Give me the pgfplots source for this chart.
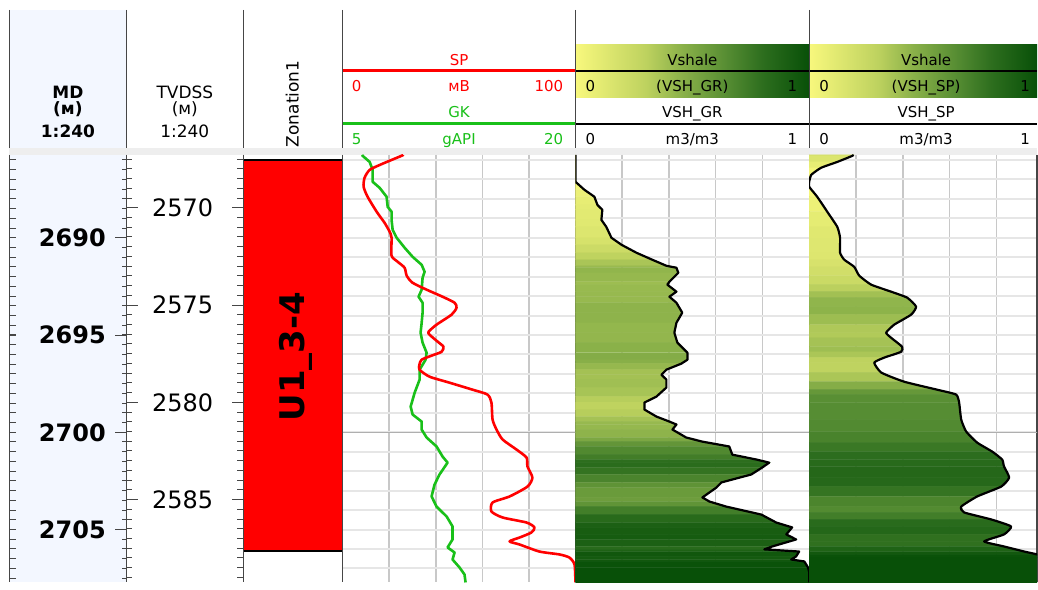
\documentclass[border=0pt]{standalone}
\usepackage{fontspec}
\setmainfont{DejaVu Sans}
\usepackage{pgfplots}
\pgfplotsset{compat=1.18}
\usepackage{pgfplotstable}

\definecolor{mdbg}{RGB}{243,247,255}
\definecolor{sepline}{RGB}{70,70,70}
\definecolor{spred}{RGB}{255,0,0}
\definecolor{gkgreen}{RGB}{25,192,25}
\definecolor{gridv}{RGB}{200,200,200}
\definecolor{gridh}{RGB}{230,230,230}
\definecolor{gridd}{RGB}{175,175,175}
\definecolor{band}{RGB}{238,238,238}
\definecolor{vA}{RGB}{248,248,125}
\definecolor{vB}{RGB}{190,210,95}
\definecolor{vC}{RGB}{140,178,74}
\definecolor{vD}{RGB}{85,140,50}
\definecolor{vE}{RGB}{45,110,30}
\definecolor{vF}{RGB}{8,80,8}
\pgfdeclarehorizontalshading{vshgrad}{100bp}{color(0bp)=(vA); color(25bp)=(vA); color(40bp)=(vB); color(47.5bp)=(vC); color(57.5bp)=(vD); color(65bp)=(vE); color(75bp)=(vF); color(100bp)=(vF)}

\newcommand\hdr{\fontsize{15}{18}\selectfont}
\newcommand\hdrbig{\fontsize{17}{20}\selectfont}

% SP (mV) vs MD depth
\pgfplotstableread{
d sp
2685.74 26.0
2685.79 25.2
2686.20 17.0
2686.51 11.6
2686.92 9.4
2687.38 9.0
2687.89 10.7
2688.66 14.6
2689.23 18.0
2689.69 20.2
2690.00 21.0
2690.92 21.0
2691.23 23.6
2691.54 26.6
2691.95 27.5
2692.31 30.0
2692.67 36.1
2693.03 42.9
2693.34 48.1
2693.60 48.9
2693.95 46.8
2694.47 40.3
2694.83 36.9
2694.98 37.3
2695.34 40.8
2695.60 43.3
2695.86 42.5
2696.06 38.2
2696.27 33.9
2696.52 33.0
2696.78 33.0
2697.14 37.3
2697.45 45.9
2697.81 55.8
2698.06 62.2
2698.47 63.9
2699.35 64.4
2699.86 66.1
2700.37 68.7
2700.89 74.7
2701.30 79.0
2701.76 79.4
2702.33 81.5
2702.79 79.4
2703.30 71.7
2703.61 64.4
2704.07 63.9
2704.38 68.7
2704.64 79.0
2704.89 82.4
2705.15 81.1
2705.41 76.0
2705.61 71.7
2705.77 76.0
2706.13 84.5
2706.28 93.1
2706.44 97.4
2706.80 99.6
2707.72 100
}\sptab

% GK (gAPI) vs MD depth
\pgfplotstableread{
d gk
2685.74 6.25
2685.79 6.29
2686.10 6.74
2686.51 6.93
2687.12 6.93
2687.43 7.38
2687.89 7.83
2688.41 7.90
2688.66 8.15
2689.08 8.15
2689.59 8.22
2690.00 8.48
2690.51 8.99
2690.98 9.51
2691.39 10.09
2691.75 10.28
2692.05 10.15
2692.67 10.09
2693.03 9.89
2693.34 10.15
2693.85 10.15
2694.37 10.09
2694.88 10.02
2695.39 10.15
2695.91 10.41
2696.27 10.34
2696.78 9.96
2697.29 9.96
2697.96 9.64
2698.68 9.38
2699.09 9.51
2699.45 10.09
2699.86 10.09
2700.27 10.41
2700.73 11.05
2701.25 11.44
2701.56 11.76
2702.17 11.24
2702.69 10.92
2703.30 10.73
2703.82 11.05
2704.33 11.70
2704.84 12.08
2705.51 12.08
2705.92 11.76
2706.18 12.21
2706.54 12.08
2706.95 12.53
2707.31 12.85
2707.72 12.92
}\gktab

% VSH_GR vs MD depth
\pgfplotstableread{
d v
2685.74 0
2687.12 0
2687.53 0.038
2687.89 0.081
2688.31 0.094
2688.56 0.115
2689.08 0.111
2689.44 0.132
2690.00 0.154
2690.36 0.197
2690.77 0.261
2691.13 0.329
2691.44 0.389
2691.54 0.432
2691.80 0.440
2692.26 0.402
2692.41 0.393
2692.77 0.432
2693.03 0.402
2693.34 0.432
2693.85 0.457
2694.37 0.432
2694.88 0.423
2695.39 0.436
2695.91 0.479
2696.27 0.479
2696.47 0.453
2696.78 0.389
2697.04 0.368
2697.29 0.389
2697.70 0.389
2698.17 0.346
2698.47 0.295
2698.83 0.295
2699.19 0.346
2699.45 0.402
2699.60 0.432
2699.86 0.415
2700.27 0.474
2700.48 0.543
2700.73 0.658
2701.15 0.671
2701.40 0.774
2701.56 0.829
2701.81 0.799
2702.17 0.752
2702.58 0.624
2702.84 0.603
2703.35 0.543
2703.56 0.573
2703.82 0.645
2704.23 0.795
2704.64 0.859
2704.89 0.927
2705.25 0.902
2705.51 0.944
2705.87 0.842
2706.02 0.808
2706.13 0.957
2706.38 0.944
2706.54 0.923
2706.64 0.979
2706.95 0.995
2707.20 1
2707.72 1
}\grtab

% VSH_SP vs MD depth
\pgfplotstableread{
d v
2685.74 0.190
2685.79 0.184
2686.10 0.120
2686.40 0.051
2686.76 0.009
2687.12 0
2687.38 0
2687.89 0.034
2688.66 0.077
2689.44 0.120
2690.00 0.132
2690.77 0.132
2691.13 0.150
2691.49 0.192
2691.95 0.214
2692.41 0.265
2692.77 0.350
2693.08 0.419
2693.54 0.457
2693.95 0.436
2694.47 0.363
2694.88 0.329
2695.14 0.350
2695.60 0.397
2695.86 0.393
2696.16 0.321
2696.42 0.278
2696.93 0.308
2697.40 0.406
2697.81 0.547
2698.06 0.628
2698.47 0.641
2699.35 0.650
2699.96 0.671
2700.53 0.718
2700.99 0.782
2701.40 0.825
2701.76 0.833
2702.33 0.855
2702.79 0.821
2703.30 0.718
2703.82 0.650
2704.12 0.662
2704.48 0.778
2704.84 0.863
2705.25 0.833
2705.61 0.748
2705.87 0.833
2706.13 0.919
2706.28 0.974
2706.44 1
2707.72 1
}\vsptab

\pgfplotsset{
  trk/.style={scale only axis, height=428pt, ymin=2685.737, ymax=2707.72,
    y dir=reverse, anchor=north west},
  gridtrk/.style={trk, separate axis lines,
    x axis line style={draw=none}, y axis line style={sepline, line width=1.2pt},
    xmajorgrids, ymajorgrids, tick style={draw=none},
    xticklabels={}, yticklabels={}, ytick={2686,2687,...,2707},
    x grid style={gridv, line width=1.5pt}, y grid style={gridh, line width=2pt}},
  ovl/.style={trk, hide axis},
  vshmap/.style={colormap={vsh}{rgb255(0cm)=(248,248,125); rgb255(3cm)=(190,210,95);
      rgb255(4.5cm)=(140,178,74); rgb255(6.5cm)=(85,140,50); rgb255(8cm)=(45,110,30);
      rgb255(10cm)=(8,80,8)}, point meta min=0, point meta max=1},
}

\begin{document}
\begin{tikzpicture}[x=1pt,y=1pt]
\fill[white] (0,0) rectangle (1038,-583);
% ---------- header ----------
\fill[mdbg] (9.5,-10) rectangle (127,-148);
\shade[shading=vshgrad] (576,-45) rectangle (810,-98);
\shade[shading=vshgrad] (810,-45) rectangle (1038,-98);
\draw[spred, line width=3pt] (343,-71) -- (576,-71);
\draw[gkgreen, line width=3pt] (343,-124) -- (576,-124);
\draw[black, line width=1.3pt] (576,-71) -- (1038,-71);
\draw[black, line width=2pt] (576,-124) -- (1038,-124);
\fill[band] (9.5,-148) rectangle (1038,-155);
\foreach \X in {9.5,127,244,343,576,810} \draw[sepline, line width=1.2pt] (\X,-10) -- (\X,-148);

\node[font=\hdrbig\bfseries, anchor=base] at (68,-99) {MD};
\node[font=\hdrbig\bfseries, anchor=base] at (68,-115) {(м)};
\node[font=\hdrbig\bfseries, anchor=base] at (68,-138) {1:240};
\node[font=\hdrbig, anchor=base] at (185,-99) {TVDSS};
\node[font=\hdrbig, anchor=base] at (185,-115) {(м)};
\node[font=\hdrbig, anchor=base] at (185,-138) {1:240};
\node[font=\hdrbig, rotate=90, anchor=base] at (299,-104) {Zonation1};

\node[font=\hdr, text=spred, anchor=base] at (459.5,-66) {SP};
\node[font=\hdr, text=spred, anchor=base west, inner sep=0pt] at (352,-91.5) {0};
\node[font=\hdr, text=spred, anchor=base] at (459.5,-91.5) {мВ};
\node[font=\hdr, text=spred, anchor=base east, inner sep=0pt] at (564,-91.5) {100};
\node[font=\hdr, text=gkgreen, anchor=base] at (459.5,-118) {GK};
\node[font=\hdr, text=gkgreen, anchor=base west, inner sep=0pt] at (352,-145) {5};
\node[font=\hdr, text=gkgreen, anchor=base] at (459.5,-145) {gAPI};
\node[font=\hdr, text=gkgreen, anchor=base east, inner sep=0pt] at (564,-145) {20};

\node[font=\hdr, anchor=base] at (693,-66) {Vshale};
\node[font=\hdr, anchor=base west, inner sep=0pt] at (586,-91.5) {0};
\node[font=\hdr, anchor=base] at (693,-91.5) {(VSH\_GR)};
\node[font=\hdr, anchor=base east, inner sep=0pt] at (798,-91.5) {1};
\node[font=\hdr, anchor=base] at (693,-118) {VSH\_GR};
\node[font=\hdr, anchor=base west, inner sep=0pt] at (586,-145) {0};
\node[font=\hdr, anchor=base] at (693,-145) {m3/m3};
\node[font=\hdr, anchor=base east, inner sep=0pt] at (798,-145) {1};

\node[font=\hdr, anchor=base] at (927,-66) {Vshale};
\node[font=\hdr, anchor=base west, inner sep=0pt] at (820,-91.5) {0};
\node[font=\hdr, anchor=base] at (927,-91.5) {(VSH\_SP)};
\node[font=\hdr, anchor=base east, inner sep=0pt] at (1031,-91.5) {1};
\node[font=\hdr, anchor=base] at (927,-118) {VSH\_SP};
\node[font=\hdr, anchor=base west, inner sep=0pt] at (820,-145) {0};
\node[font=\hdr, anchor=base] at (927,-145) {m3/m3};
\node[font=\hdr, anchor=base east, inner sep=0pt] at (1031,-145) {1};

% ---------- MD track ----------
\begin{axis}[trk, at={(9.5pt,-155pt)}, width=117.5pt, xmin=0, xmax=1,
  axis x line=none, axis y line*=left, axis line style={sepline, line width=1.2pt},
  axis background/.style={fill=mdbg},
  ytick={2690,2695,2700,2705}, yticklabels={}, minor ytick={2686,2686.5,...,2707.5},
  tick align=inside, major tick length=7pt, minor tick length=7pt,
  every tick/.style={sepline, line width=1pt}]
\end{axis}
\begin{axis}[trk, at={(9.5pt,-155pt)}, width=117.5pt, xmin=0, xmax=1,
  axis x line=none, axis y line*=right, axis line style={sepline, line width=1.2pt},
  ytick={2690,2695,2700,2705}, yticklabels={2690,2695,2700,2705},
  minor ytick={2686,2686.5,...,2707.5},
  tick align=inside, major tick length=12pt, minor tick length=5pt,
  every tick/.style={sepline, line width=1pt},
  yticklabel style={font=\fontsize{24}{24}\selectfont\bfseries, anchor=east, inner sep=0pt, xshift=-21pt}]
\end{axis}
% ---------- TVDSS track ----------
\begin{axis}[trk, at={(127pt,-155pt)}, width=117pt, xmin=0, xmax=1,
  ymin=2567.277, ymax=2589.26,
  axis x line=none, axis y line*=left, axis line style={sepline, line width=1.2pt},
  ytick={2570,2575,2580,2585}, yticklabels={2570,2575,2580,2585},
  minor ytick={2567.5,2568,...,2589},
  tick align=inside, major tick length=11pt, minor tick length=5pt,
  every tick/.style={sepline, line width=1pt},
  yticklabel style={font=\fontsize{24}{24}\selectfont, anchor=west, inner sep=0pt, xshift=25pt}]
\end{axis}
\begin{axis}[trk, at={(127pt,-155pt)}, width=117pt, xmin=0, xmax=1,
  ymin=2567.277, ymax=2589.26,
  axis x line=none, axis y line*=right, axis line style={sepline, line width=1.2pt},
  ytick={2570,2575,2580,2585}, yticklabels={}, minor ytick={2567.5,2568,...,2589},
  tick align=inside, major tick length=12pt, minor tick length=7pt,
  every tick/.style={sepline, line width=1pt}]
\end{axis}
% ---------- Zonation track ----------
\begin{axis}[trk, at={(244pt,-155pt)}, width=99pt, xmin=0, xmax=1,
  separate axis lines, x axis line style={draw=none}, y axis line style={sepline, line width=1.2pt},
  xtick=\empty, ytick=\empty]
\addplot[fill=red, draw=none] coordinates {(0,2685.99) (1,2685.99) (1,2706.08) (0,2706.08)} -- cycle;
\addplot[black, line width=2pt] coordinates {(0,2685.99) (1,2685.99)};
\addplot[black, line width=2pt] coordinates {(0,2706.08) (1,2706.08)};
\node[rotate=90, font=\fontsize{34}{34}\selectfont\bfseries] at (axis cs:0.53,2696.11) {U1\_3-4};
\end{axis}
% ---------- SP / GK track ----------
\begin{axis}[gridtrk, at={(343pt,-155pt)}, width=233pt, xmin=0, xmax=100, xtick={20,40,60,80}]
\addplot[gridd, line width=1.5pt] coordinates {(0,2700) (100,2700)};
\end{axis}
\begin{axis}[ovl, at={(343pt,-155pt)}, width=233pt, xmin=5, xmax=20]
\addplot[gkgreen, line width=2.6pt, line join=round] table[x=gk, y=d] \gktab;
\end{axis}
\begin{axis}[ovl, at={(343pt,-155pt)}, width=233pt, xmin=0, xmax=100]
\addplot[spred, line width=2.6pt, line join=round, smooth, tension=0.4] table[x=sp, y=d] \sptab;
\end{axis}
% ---------- VSH_GR track ----------
\begin{axis}[gridtrk, vshmap, at={(576pt,-155pt)}, width=234pt, xmin=0, xmax=1,
  xtick={0.2,0.4,0.6,0.8}]
\addplot[gridd, line width=1.5pt] coordinates {(0,2700) (1,2700)};
\addplot[surf, shader=flat, mesh/cols=2, point meta=explicit]
  table[x expr={mod(\coordindex,2)*\thisrow{v}}, y=d, meta=v] {
d v
2685.74 0
2685.74 0
2687.12 0
2687.12 0
2687.53 0.038
2687.53 0.038
2687.89 0.081
2687.89 0.081
2688.31 0.094
2688.31 0.094
2688.56 0.115
2688.56 0.115
2689.08 0.111
2689.08 0.111
2689.44 0.132
2689.44 0.132
2690.00 0.154
2690.00 0.154
2690.36 0.197
2690.36 0.197
2690.77 0.261
2690.77 0.261
2691.13 0.329
2691.13 0.329
2691.44 0.389
2691.44 0.389
2691.54 0.432
2691.54 0.432
2691.80 0.440
2691.80 0.440
2692.26 0.402
2692.26 0.402
2692.41 0.393
2692.41 0.393
2692.77 0.432
2692.77 0.432
2693.03 0.402
2693.03 0.402
2693.34 0.432
2693.34 0.432
2693.85 0.457
2693.85 0.457
2694.37 0.432
2694.37 0.432
2694.88 0.423
2694.88 0.423
2695.39 0.436
2695.39 0.436
2695.91 0.479
2695.91 0.479
2696.27 0.479
2696.27 0.479
2696.47 0.453
2696.47 0.453
2696.78 0.389
2696.78 0.389
2697.04 0.368
2697.04 0.368
2697.29 0.389
2697.29 0.389
2697.70 0.389
2697.70 0.389
2698.17 0.346
2698.17 0.346
2698.47 0.295
2698.47 0.295
2698.83 0.295
2698.83 0.295
2699.19 0.346
2699.19 0.346
2699.45 0.402
2699.45 0.402
2699.60 0.432
2699.60 0.432
2699.86 0.415
2699.86 0.415
2700.27 0.474
2700.27 0.474
2700.48 0.543
2700.48 0.543
2700.73 0.658
2700.73 0.658
2701.15 0.671
2701.15 0.671
2701.40 0.774
2701.40 0.774
2701.56 0.829
2701.56 0.829
2701.81 0.799
2701.81 0.799
2702.17 0.752
2702.17 0.752
2702.58 0.624
2702.58 0.624
2702.84 0.603
2702.84 0.603
2703.35 0.543
2703.35 0.543
2703.56 0.573
2703.56 0.573
2703.82 0.645
2703.82 0.645
2704.23 0.795
2704.23 0.795
2704.64 0.859
2704.64 0.859
2704.89 0.927
2704.89 0.927
2705.25 0.902
2705.25 0.902
2705.51 0.944
2705.51 0.944
2705.87 0.842
2705.87 0.842
2706.02 0.808
2706.02 0.808
2706.13 0.957
2706.13 0.957
2706.38 0.944
2706.38 0.944
2706.54 0.923
2706.54 0.923
2706.64 0.979
2706.64 0.979
2706.95 0.995
2706.95 0.995
2707.20 1
2707.20 1
2707.72 1
2707.72 1
};
\addplot[black, line width=2.2pt, line join=round] table[x=v, y=d] \grtab;
\end{axis}
% ---------- VSH_SP track ----------
\begin{axis}[gridtrk, vshmap, at={(810pt,-155pt)}, width=228pt, xmin=0, xmax=0.974,
  xtick={0.2,0.4,0.6,0.8}]
\addplot[gridd, line width=1.5pt] coordinates {(0,2700) (1,2700)};
\addplot[surf, shader=flat, mesh/cols=2, point meta=explicit]
  table[x expr={mod(\coordindex,2)*\thisrow{v}}, y=d, meta=v] {
d v
2685.74 0.190
2685.74 0.190
2685.79 0.184
2685.79 0.184
2686.10 0.120
2686.10 0.120
2686.40 0.051
2686.40 0.051
2686.76 0.009
2686.76 0.009
2687.12 0
2687.12 0
2687.38 0
2687.38 0
2687.89 0.034
2687.89 0.034
2688.66 0.077
2688.66 0.077
2689.44 0.120
2689.44 0.120
2690.00 0.132
2690.00 0.132
2690.77 0.132
2690.77 0.132
2691.13 0.150
2691.13 0.150
2691.49 0.192
2691.49 0.192
2691.95 0.214
2691.95 0.214
2692.41 0.265
2692.41 0.265
2692.77 0.350
2692.77 0.350
2693.08 0.419
2693.08 0.419
2693.54 0.457
2693.54 0.457
2693.95 0.436
2693.95 0.436
2694.47 0.363
2694.47 0.363
2694.88 0.329
2694.88 0.329
2695.14 0.350
2695.14 0.350
2695.60 0.397
2695.60 0.397
2695.86 0.393
2695.86 0.393
2696.16 0.321
2696.16 0.321
2696.42 0.278
2696.42 0.278
2696.93 0.308
2696.93 0.308
2697.40 0.406
2697.40 0.406
2697.81 0.547
2697.81 0.547
2698.06 0.628
2698.06 0.628
2698.47 0.641
2698.47 0.641
2699.35 0.650
2699.35 0.650
2699.96 0.671
2699.96 0.671
2700.53 0.718
2700.53 0.718
2700.99 0.782
2700.99 0.782
2701.40 0.825
2701.40 0.825
2701.76 0.833
2701.76 0.833
2702.33 0.855
2702.33 0.855
2702.79 0.821
2702.79 0.821
2703.30 0.718
2703.30 0.718
2703.82 0.650
2703.82 0.650
2704.12 0.662
2704.12 0.662
2704.48 0.778
2704.48 0.778
2704.84 0.863
2704.84 0.863
2705.25 0.833
2705.25 0.833
2705.61 0.748
2705.61 0.748
2705.87 0.833
2705.87 0.833
2706.13 0.919
2706.13 0.919
2706.28 0.974
2706.28 0.974
2706.44 1
2706.44 1
2707.72 1
2707.72 1
};
\addplot[black, line width=2.2pt, line join=round, smooth, tension=0.3] table[x=v, y=d] \vsptab;
\end{axis}
\end{tikzpicture}
\end{document}
